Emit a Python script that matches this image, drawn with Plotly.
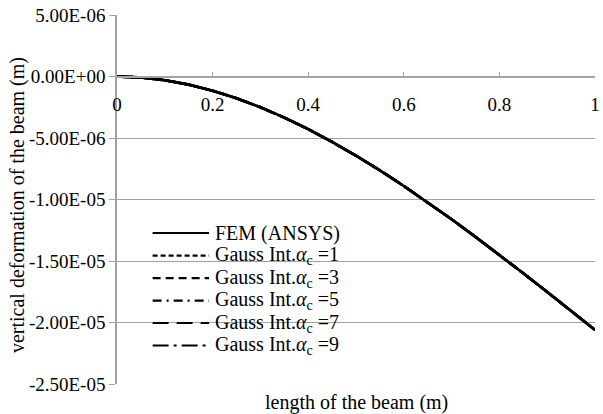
import plotly.graph_objects as go

# ---- data ----
beam_x = [0.0, 0.05, 0.10, 0.15, 0.20, 0.25, 0.30, 0.35, 0.40, 0.45, 0.50,
          0.55, 0.60, 0.65, 0.70, 0.75, 0.80, 0.85, 0.90, 0.95, 1.0]
fem_ansys = [0.0, -0.08e-6, -0.30e-6, -0.66e-6, -1.15e-6, -1.77e-6, -2.50e-6,
             -3.34e-6, -4.28e-6, -5.32e-6, -6.44e-6, -7.63e-6, -8.90e-6,
             -10.23e-6, -11.61e-6, -13.04e-6, -14.50e-6, -16.00e-6,
             -17.52e-6, -19.06e-6, -20.60e-6]
gauss_a1 = list(fem_ansys)
gauss_a3 = list(fem_ansys)
gauss_a5 = list(fem_ansys)
gauss_a7 = list(fem_ansys)
gauss_a9 = list(fem_ansys)

series_names = ["FEM (ANSYS)",
                "Gauss Int.<i>α</i><sub>c</sub> =1",
                "Gauss Int.<i>α</i><sub>c</sub> =3",
                "Gauss Int.<i>α</i><sub>c</sub> =5",
                "Gauss Int.<i>α</i><sub>c</sub> =7",
                "Gauss Int.<i>α</i><sub>c</sub> =9"]
series_values = [fem_ansys, gauss_a1, gauss_a3, gauss_a5, gauss_a7, gauss_a9]

y_ticks = [5e-6, 0.0, -5e-6, -1e-5, -1.5e-5, -2e-5, -2.5e-5]
x_ticks = [0, 0.2, 0.4, 0.6, 0.8, 1]
x_title = "length of the beam (m)"
y_title = "vertical deformation of the beam (m)"

# ---- styling ----
W, H = 603, 414
L, R, T, B = 117, 600, 15, 384
FONT = "Liberation Serif"
FS = 20
TICK_FONT = dict(family=FONT, size=19, color="black")
GRAY = "#a3a3a3"
dashes = ["solid", "5px,3px", "8px,5px", "9px,5px,2px,5px", "16px,8px", "16px,5px,3px,5px"]

def px_to_paper_x(px):
    return (px - L) / (R - L)

def px_to_paper_y(py):
    return (B - py) / (B - T)

fig = go.Figure()
for name, vals, d in zip(series_names, series_values, dashes):
    fig.add_trace(go.Scatter(x=beam_x, y=vals, mode="lines", name=name,
                             line=dict(color="black", width=2.6, dash=d),
                             showlegend=False))

ymin, ymax = min(y_ticks), max(y_ticks)
fig.update_layout(
    width=W, height=H,
    margin=dict(l=L, r=W - R, t=T, b=H - B),
    paper_bgcolor="white", plot_bgcolor="white",
    font=dict(family=FONT, size=FS, color="black"),
    xaxis=dict(range=[0, 1], tickvals=x_ticks, ticktext=[f"{v:g}" for v in x_ticks],
               anchor="free", position=(0 - ymin) / (ymax - ymin),
               showline=True, linecolor=GRAY, linewidth=1.5,
               ticks="inside", ticklen=4, tickcolor=GRAY, tickwidth=1.3,
               showgrid=False, zeroline=False, ticklabelstandoff=11,
               tickfont=TICK_FONT, ticklabeloverflow="allow"),
    yaxis=dict(range=[ymin, ymax], tickvals=y_ticks,
               ticktext=[f"{v:.2E}" for v in y_ticks],
               showline=True, linecolor=GRAY, linewidth=1.5,
               ticks="outside", ticklen=6, tickcolor=GRAY, tickwidth=1.3,
               showgrid=True, gridcolor=GRAY, gridwidth=1.3, zeroline=False,
               tickfont=TICK_FONT, ticklabeloverflow="allow"),
)

# axis titles
fig.add_annotation(text=x_title, xref="paper", yref="paper",
                   x=px_to_paper_x((L + R) / 2), y=px_to_paper_y(389),
                   xanchor="center", yanchor="top", showarrow=False)
fig.add_annotation(text=y_title, xref="paper", yref="paper", textangle=-90,
                   x=px_to_paper_x(16), y=px_to_paper_y(205),
                   xanchor="center", yanchor="middle", showarrow=False)

# legend drawn inside the plot
rows = [233, 255.7, 278.2, 300.7, 323, 345.5]
for name, d, ry in zip(series_names, dashes, rows):
    fig.add_shape(type="line", xref="paper", yref="paper",
                  x0=px_to_paper_x(153), x1=px_to_paper_x(210),
                  y0=px_to_paper_y(ry), y1=px_to_paper_y(ry),
                  line=dict(color="black", width=2.2, dash=d))
    fig.add_annotation(text=name, xref="paper", yref="paper",
                       x=px_to_paper_x(214), y=px_to_paper_y(ry),
                       xanchor="left", yanchor="middle", showarrow=False)

fig.write_html("out.html")
